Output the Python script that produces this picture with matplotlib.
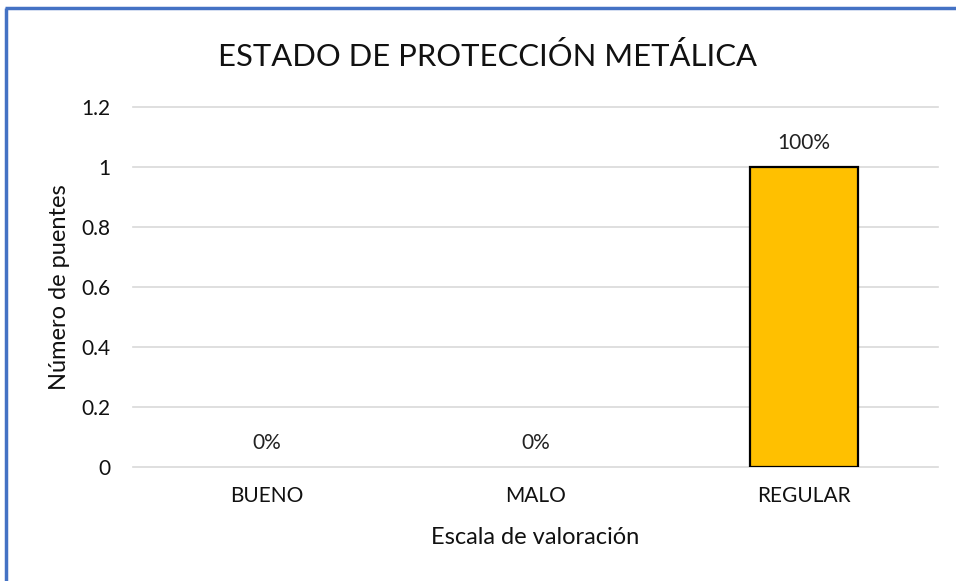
import matplotlib
matplotlib.use("Agg")
import matplotlib.pyplot as plt

categories = ["BUENO", "MALO", "REGULAR"]
values = [0, 0, 1]
labels = ["0%", "0%", "100%"]
yticks = [0, 0.2, 0.4, 0.6, 0.8, 1, 1.2]
ytick_labels = ["0", "0.2", "0.4", "0.6", "0.8", "1", "1.2"]

plt.rcParams['font.family'] = ['Lato', 'DejaVu Sans']

fig = plt.figure(figsize=(9.56, 5.81), dpi=100)
W, H = 956, 581
L, R, T, B = 133, 938, 107, 467
ax = fig.add_axes([L/W, 1 - B/H, (R-L)/W, (B-T)/H])

x = list(range(len(categories)))
bars = ax.bar(x, values, width=0.4, color="#FFC000", edgecolor="black", linewidth=1.6, zorder=3)
for b, v in zip(bars, values):
    if v == 0:
        b.set_linewidth(0)
ax.set_xlim(-0.5, len(categories) - 0.5)
ax.set_ylim(0, 1.2)
ax.set_yticks(yticks)
ax.set_yticklabels(ytick_labels)
ax.set_xticks(x)
ax.set_xticklabels(categories)
ax.yaxis.grid(True, color="#d9d9d9", linewidth=1.2, zorder=0)
ax.set_axisbelow(True)
for gl in ax.get_ygridlines():
    gl.set_clip_on(False)
for s in ax.spines.values():
    s.set_visible(False)
ax.tick_params(axis='both', length=0, labelsize=15, colors="#111111")
ax.tick_params(axis='y', pad=16)
ax.tick_params(axis='x', pad=14)

for xi, v, lab in zip(x, values, labels):
    ax.annotate(lab, (xi, v), xytext=(0, 10), textcoords="offset points",
                ha="center", va="bottom", fontsize=15, color="#222222")

ax.set_ylabel("Número de puentes", fontsize=17, color="#111111", va="center")
ax.yaxis.set_label_coords((60 - L)/(R - L), 0.5)
ax.set_xlabel("Escala de valoración", fontsize=17, color="#111111", va="center")
ax.xaxis.set_label_coords(0.5, (B - 538)/(B - T))
fig.text(487/W, 1 - 56/H, "ESTADO DE PROTECCIÓN METÁLICA", ha="center", va="center",
         fontsize=22.3, color="#111111")

# border (blue, top and left)
fig.add_artist(plt.Line2D([6/W, 6/W], [0, 1 - 8/H], transform=fig.transFigure,
                          color="#4472C4", linewidth=2.5, solid_capstyle="butt"))
fig.add_artist(plt.Line2D([5/W, 1], [1 - 8/H, 1 - 8/H], transform=fig.transFigure,
                          color="#4472C4", linewidth=2.5, solid_capstyle="butt"))

fig.savefig("out.png", dpi=100)
